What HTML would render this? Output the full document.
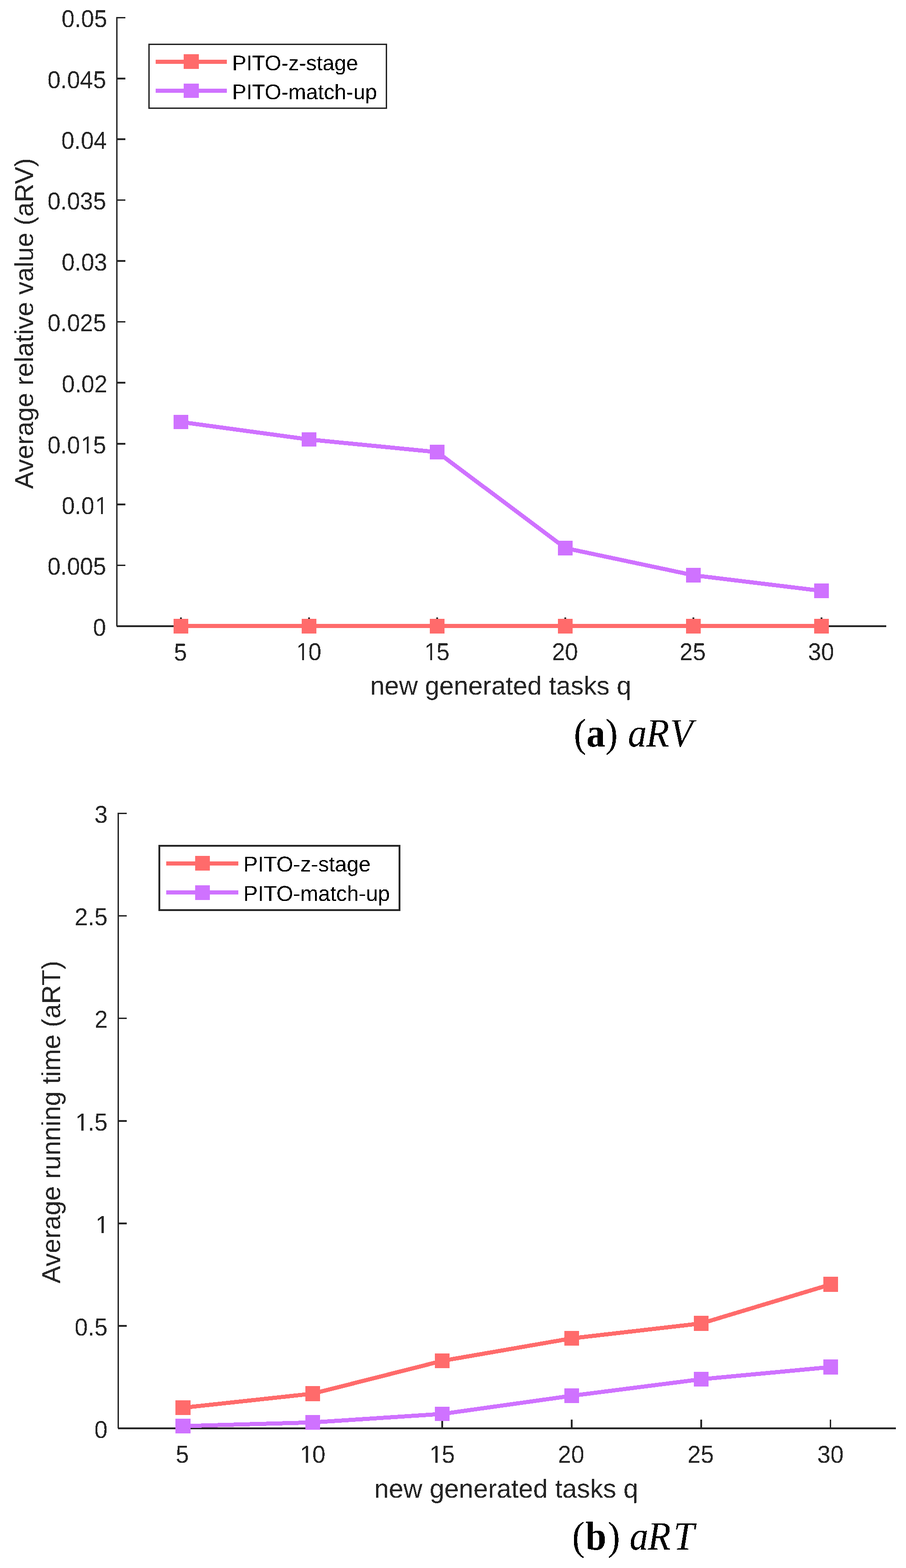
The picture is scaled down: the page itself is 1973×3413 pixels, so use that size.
<!DOCTYPE html>
<html lang="en">
<head>
<meta charset="utf-8">
<title>aRV and aRT versus new generated tasks q</title>
<style>
html,body{margin:0;padding:0;background:#fff;}
body{width:1973px;height:3413px;overflow:hidden;}
svg{display:block;}
text{white-space:pre;text-rendering:geometricPrecision;}
</style>
</head>
<body>
<svg width="1973" height="3413" viewBox="0 0 1973 3413">
<defs>
<filter id="crisp" x="-2%" y="-2%" width="104%" height="104%" color-interpolation-filters="sRGB">
<feComponentTransfer><feFuncA type="discrete" tableValues="0 1"/></feComponentTransfer>
</filter>
</defs>
<rect x="0" y="0" width="1973" height="3413" fill="#fff"/>
<g id="chart-a">
<g shape-rendering="crispEdges">
<rect x="253" y="37" width="3" height="1326" fill="#262626"/>
<rect x="254" y="1361" width="1676" height="4" fill="#262626"/>
<rect x="253" y="1229" width="20" height="3" fill="#262626"/>
<rect x="253" y="1096" width="20" height="4" fill="#262626"/>
<rect x="253" y="964" width="20" height="4" fill="#262626"/>
<rect x="253" y="831" width="20" height="4" fill="#262626"/>
<rect x="253" y="699" width="20" height="3" fill="#262626"/>
<rect x="253" y="566" width="20" height="4" fill="#262626"/>
<rect x="253" y="434" width="20" height="3" fill="#262626"/>
<rect x="253" y="301" width="20" height="4" fill="#262626"/>
<rect x="253" y="169" width="20" height="4" fill="#262626"/>
<rect x="253" y="37" width="20" height="3" fill="#262626"/>
<rect x="392" y="1344" width="4" height="18" fill="#262626"/>
<rect x="671" y="1344" width="4" height="18" fill="#262626"/>
<rect x="950" y="1344" width="4" height="18" fill="#262626"/>
<rect x="1229" y="1344" width="4" height="18" fill="#262626"/>
<rect x="1508" y="1344" width="4" height="18" fill="#262626"/>
<rect x="1787" y="1344" width="4" height="18" fill="#262626"/>
</g>
<g shape-rendering="crispEdges">
<polyline points="394.38,918.63 673.38,956.63 952.38,984.13 1231.38,1193.13 1510.38,1252.13 1789.38,1286.13" fill="none" stroke="#CF72FF" stroke-width="9.0" stroke-linejoin="round"/>
<rect x="378" y="903" width="32" height="31" fill="#CF72FF"/>
<rect x="657" y="941" width="32" height="31" fill="#CF72FF"/>
<rect x="936" y="968" width="32" height="32" fill="#CF72FF"/>
<rect x="1215" y="1177" width="32" height="32" fill="#CF72FF"/>
<rect x="1494" y="1236" width="32" height="32" fill="#CF72FF"/>
<rect x="1773" y="1270" width="32" height="32" fill="#CF72FF"/>
<rect x="394" y="1358" width="1395" height="9" fill="#FF6B6B"/>
<rect x="378" y="1347" width="32" height="32" fill="#FF6B6B"/>
<rect x="657" y="1347" width="32" height="32" fill="#FF6B6B"/>
<rect x="936" y="1347" width="32" height="32" fill="#FF6B6B"/>
<rect x="1215" y="1347" width="32" height="32" fill="#FF6B6B"/>
<rect x="1494" y="1347" width="32" height="32" fill="#FF6B6B"/>
<rect x="1773" y="1347" width="32" height="32" fill="#FF6B6B"/>
</g>
<g shape-rendering="crispEdges">
<rect x="324.5" y="96.5" width="517" height="139" fill="#fff" stroke="#262626" stroke-width="3"/>
<rect x="339" y="130" width="155" height="9" fill="#FF6B6B"/>
<rect x="400" y="118" width="33" height="32" fill="#FF6B6B"/>
<rect x="339" y="193" width="155" height="9" fill="#CF72FF"/>
<rect x="400" y="182" width="33" height="31" fill="#CF72FF"/>
</g>
<g font-family="'Liberation Sans', sans-serif" font-size="46.3" fill="#000" filter="url(#crisp)">
<text x="505.4" y="153.2">PITO-z-stage</text>
<text x="505.4" y="215.8">PITO-match-up</text>
</g>
<g font-family="'Liberation Sans', sans-serif" font-size="51.4" fill="#262626" filter="url(#crisp)">
<text transform="translate(202.53,1384) scale(0.992,1.035)">0</text>
<text transform="translate(103.44,1251) scale(0.992,1.035)">0.005</text>
<text transform="translate(134.39,1119) scale(0.992,1.035)">0.0<tspan dx="1.71">1</tspan></text>
<text transform="translate(103.44,987) scale(0.992,1.035)">0.0<tspan dx="1.71">1</tspan><tspan dx="-1.71">5</tspan></text>
<text transform="translate(134.53,854) scale(0.992,1.035)">0.02</text>
<text transform="translate(103.44,721) scale(0.992,1.035)">0.025</text>
<text transform="translate(134.20,589) scale(0.992,1.035)">0.03</text>
<text transform="translate(103.44,456) scale(0.992,1.035)">0.035</text>
<text transform="translate(133.45,324) scale(0.992,1.035)">0.04</text>
<text transform="translate(103.44,192) scale(0.992,1.035)">0.045</text>
<text transform="translate(134.10,59) scale(0.992,1.035)">0.05</text>
<text transform="translate(378.77,1438) scale(0.992,1.035)">5</text>
<text transform="translate(643.04,1437) scale(0.992,1.035)"><tspan dx="1.71">1</tspan><tspan dx="-1.71">0</tspan></text>
<text transform="translate(922.11,1437) scale(0.992,1.035)"><tspan dx="1.71">1</tspan><tspan dx="-1.71">5</tspan></text>
<text transform="translate(1201.91,1437) scale(0.992,1.035)">20</text>
<text transform="translate(1480.03,1437) scale(0.992,1.035)">25</text>
<text transform="translate(1759.77,1437) scale(0.992,1.035)">30</text>
</g>
<g font-family="'Liberation Sans', sans-serif" font-size="56.5" fill="#262626" text-anchor="middle" filter="url(#crisp)">
<text x="1090.3" y="1511.8">new generated tasks q</text>
<text transform="translate(72,704.2) rotate(-90)">Average relative value (aRV)</text>
</g>
<text transform="translate(1249.8,1624.6) scale(0.93,1)" font-family="'Liberation Serif', serif" font-size="88" fill="#000" filter="url(#crisp)">(<tspan font-weight="bold" dx="0">a</tspan><tspan dx="0">) </tspan><tspan x="126.5" dx="0 -1.3 3.7" font-style="italic">aRV</tspan></text>
</g>
<g id="chart-b">
<g shape-rendering="crispEdges">
<rect x="256" y="1769" width="3" height="1340" fill="#262626"/>
<rect x="257" y="3107" width="1694" height="4" fill="#262626"/>
<rect x="256" y="2884" width="20" height="4" fill="#262626"/>
<rect x="256" y="2661" width="20" height="4" fill="#262626"/>
<rect x="256" y="2438" width="20" height="4" fill="#262626"/>
<rect x="256" y="2215" width="20" height="3" fill="#262626"/>
<rect x="256" y="1992" width="20" height="3" fill="#262626"/>
<rect x="256" y="1769" width="20" height="3" fill="#262626"/>
<rect x="396" y="3090" width="4" height="18" fill="#262626"/>
<rect x="679" y="3090" width="4" height="18" fill="#262626"/>
<rect x="961" y="3090" width="4" height="18" fill="#262626"/>
<rect x="1243" y="3090" width="4" height="18" fill="#262626"/>
<rect x="1525" y="3090" width="4" height="18" fill="#262626"/>
<rect x="1807" y="3090" width="3" height="18" fill="#262626"/>
</g>
<g shape-rendering="crispEdges">
<polyline points="398.88,3064.13 680.98,3033.53 963.08,2962.13 1245.18,2913.13 1527.28,2880.63 1809.38,2795.63" fill="none" stroke="#FF6B6B" stroke-width="9.0" stroke-linejoin="round"/>
<rect x="382" y="3048" width="33" height="32" fill="#FF6B6B"/>
<rect x="665" y="3017" width="32" height="33" fill="#FF6B6B"/>
<rect x="947" y="2946" width="32" height="32" fill="#FF6B6B"/>
<rect x="1229" y="2897" width="32" height="32" fill="#FF6B6B"/>
<rect x="1511" y="2864" width="32" height="33" fill="#FF6B6B"/>
<rect x="1793" y="2779" width="32" height="33" fill="#FF6B6B"/>
<polyline points="398.88,3104.13 680.98,3096.13 963.08,3077.63 1245.18,3038.13 1527.28,3002.13 1809.38,2975.63" fill="none" stroke="#CF72FF" stroke-width="9.0" stroke-linejoin="round"/>
<rect x="382" y="3088" width="33" height="32" fill="#CF72FF"/>
<rect x="665" y="3080" width="32" height="32" fill="#CF72FF"/>
<rect x="947" y="3062" width="32" height="31" fill="#CF72FF"/>
<rect x="1229" y="3022" width="32" height="32" fill="#CF72FF"/>
<rect x="1511" y="2986" width="32" height="32" fill="#CF72FF"/>
<rect x="1793" y="2959" width="32" height="33" fill="#CF72FF"/>
</g>
<g shape-rendering="crispEdges">
<rect x="347" y="1841" width="523" height="140" fill="#fff" stroke="#262626" stroke-width="4"/>
<rect x="362" y="1875" width="157" height="9" fill="#FF6B6B"/>
<rect x="425" y="1863" width="32" height="32" fill="#FF6B6B"/>
<rect x="362" y="1938" width="157" height="9" fill="#CF72FF"/>
<rect x="425" y="1927" width="32" height="32" fill="#CF72FF"/>
</g>
<g font-family="'Liberation Sans', sans-serif" font-size="46.8" fill="#000" filter="url(#crisp)">
<text x="530" y="1896.9">PITO-z-stage</text>
<text x="530" y="1961.2">PITO-match-up</text>
</g>
<g font-family="'Liberation Sans', sans-serif" font-size="52" fill="#262626" filter="url(#crisp)">
<text transform="translate(205.43,3130) scale(0.992,1.025)">0</text>
<text transform="translate(162.56,2907) scale(0.992,1.025)">0.5</text>
<text transform="translate(206.47,2684) scale(0.992,1.025)"><tspan dx="1.71">1</tspan></text>
<text transform="translate(162.56,2461) scale(0.992,1.025)"><tspan dx="1.71">1</tspan><tspan dx="-1.71">.</tspan>5</text>
<text transform="translate(206.01,2237) scale(0.992,1.025)">2</text>
<text transform="translate(162.56,2014) scale(0.992,1.025)">2.5</text>
<text transform="translate(205.68,1791) scale(0.992,1.025)">3</text>
<text transform="translate(382.81,3184) scale(0.992,1.025)">5</text>
<text transform="translate(651.19,3184) scale(0.992,1.025)"><tspan dx="1.71">1</tspan><tspan dx="-1.71">0</tspan></text>
<text transform="translate(933.26,3184) scale(0.992,1.025)"><tspan dx="1.71">1</tspan><tspan dx="-1.71">5</tspan></text>
<text transform="translate(1215.12,3184) scale(0.992,1.025)">20</text>
<text transform="translate(1497.20,3184) scale(0.992,1.025)">25</text>
<text transform="translate(1779.84,3184) scale(0.992,1.025)">30</text>
</g>
<g font-family="'Liberation Sans', sans-serif" font-size="57.1" fill="#262626" text-anchor="middle" filter="url(#crisp)">
<text x="1102.3" y="3259.9">new generated tasks q</text>
<text transform="translate(130.9,2442.4) rotate(-90)">Average running time (aRT)</text>
</g>
<text transform="translate(1245.9,3372.5) scale(0.93,1)" font-family="'Liberation Serif', serif" font-size="88" fill="#000" filter="url(#crisp)">(<tspan font-weight="bold" dx="2">b</tspan><tspan dx="2.6">) </tspan><tspan x="134.6" dx="0 -1.3 6.5" font-style="italic">aRT</tspan></text>
</g>
<g shape-rendering="crispEdges"><rect x="209" y="1115" width="11" height="4" fill="#fff"/><rect x="224" y="1115" width="11" height="4" fill="#fff"/><rect x="178" y="983" width="11" height="4" fill="#fff"/><rect x="193" y="983" width="11" height="4" fill="#fff"/><rect x="647" y="1433" width="11" height="4" fill="#fff"/><rect x="662" y="1433" width="11" height="4" fill="#fff"/><rect x="926" y="1433" width="11" height="4" fill="#fff"/><rect x="941" y="1433" width="11" height="4" fill="#fff"/><rect x="210" y="2680" width="11" height="4" fill="#fff"/><rect x="226" y="2680" width="10" height="4" fill="#fff"/><rect x="166" y="2457" width="11" height="4" fill="#fff"/><rect x="182" y="2457" width="10" height="4" fill="#fff"/><rect x="655" y="3180" width="11" height="4" fill="#fff"/><rect x="671" y="3180" width="10" height="4" fill="#fff"/><rect x="937" y="3180" width="11" height="4" fill="#fff"/><rect x="953" y="3180" width="10" height="4" fill="#fff"/></g>
</svg>
</body>
</html>
